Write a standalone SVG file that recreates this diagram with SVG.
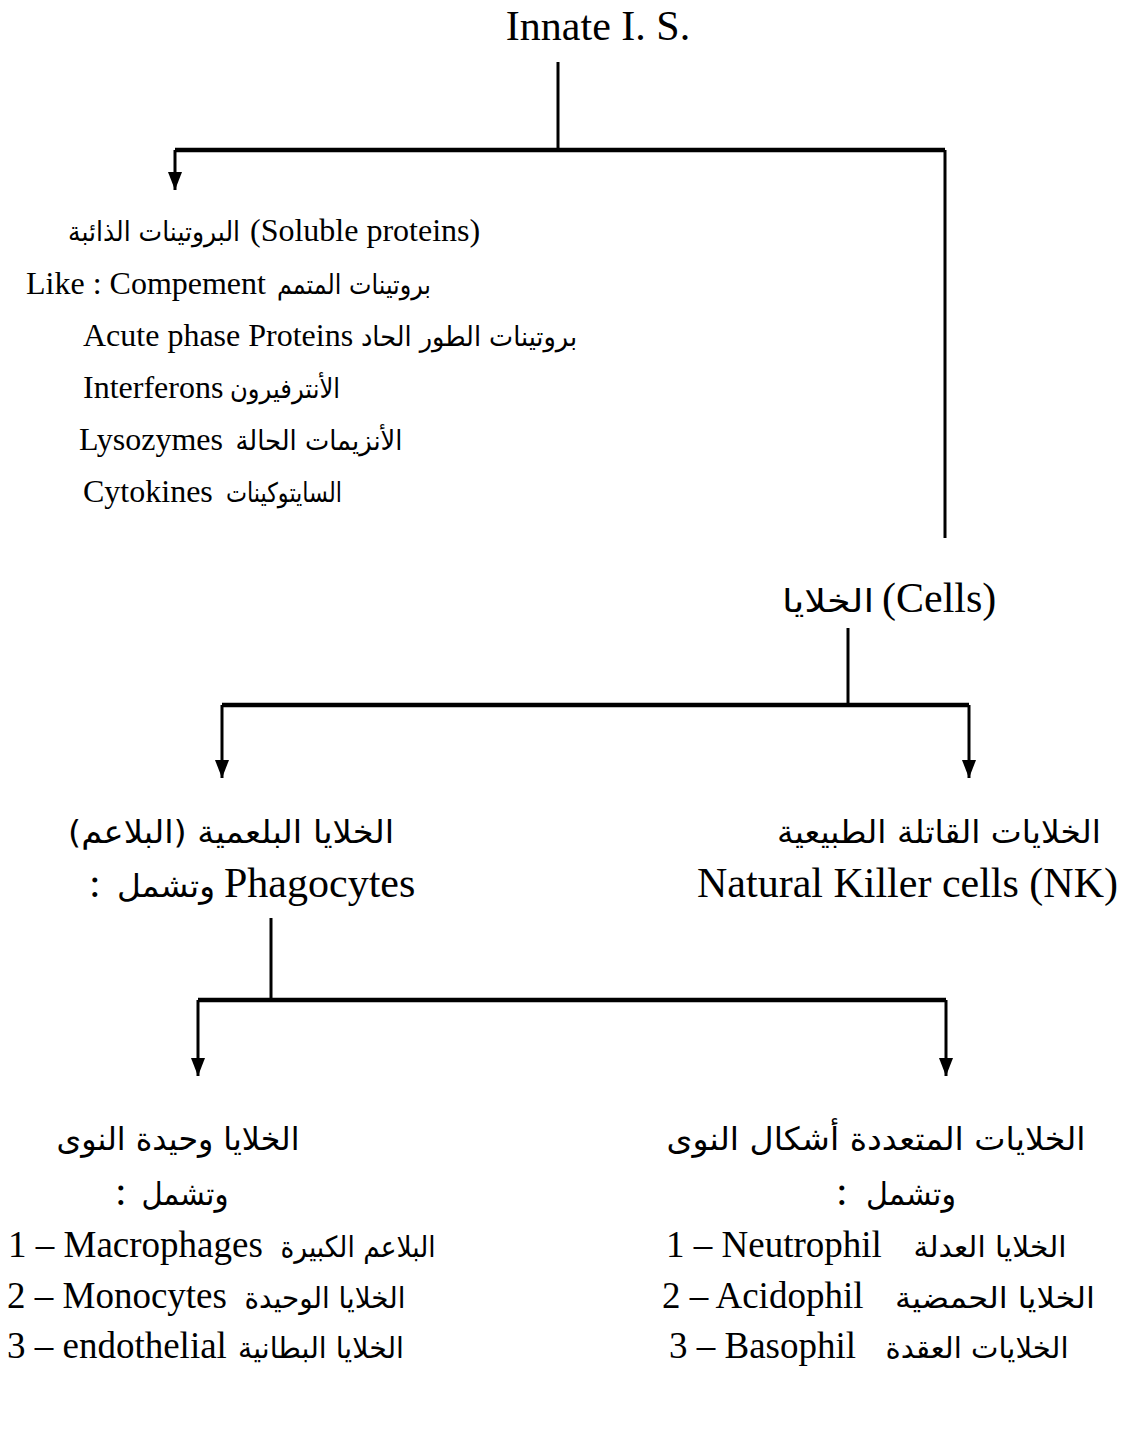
<svg xmlns="http://www.w3.org/2000/svg" width="1123" height="1430" viewBox="0 0 1123 1430">
<style>
.en{font-family:"Liberation Serif","Times New Roman",serif;fill:#000}
.ar{font-family:"DejaVu Sans",sans-serif;fill:#000}
.h{font-size:42px}
.l{font-size:32px}
.b{font-size:37px}
.ah{font-size:32px}
.al{font-size:27px}
.ab{font-size:29px}
.ln{stroke:#000;stroke-width:3;fill:none}
.bar{stroke:#000;stroke-width:4.5;fill:none}
</style>
<defs>
<marker id="arr" viewBox="0 0 18 14" refX="18" refY="7" markerWidth="18" markerHeight="14" markerUnits="userSpaceOnUse" orient="auto">
<path d="M0,0 L18,7 L0,14 z" fill="#000"/>
</marker>
</defs>
<rect width="1123" height="1430" fill="#fff"/>
<g id="connectors">
<path class="ln" d="M558,62 V150"/>
<path class="bar" d="M175,150 H945"/>
<path class="ln" d="M175,150 V190" marker-end="url(#arr)"/>
<path class="ln" d="M945,150 V538"/>
<path class="ln" d="M848,628 V705"/>
<path class="bar" d="M222,705 H969"/>
<path class="ln" d="M222,705 V778" marker-end="url(#arr)"/>
<path class="ln" d="M969,705 V778" marker-end="url(#arr)"/>
<path class="ln" d="M271,918 V1000"/>
<path class="bar" d="M198,1000 H946"/>
<path class="ln" d="M198,1000 V1076" marker-end="url(#arr)"/>
<path class="ln" d="M946,1000 V1076" marker-end="url(#arr)"/>
</g>
<g id="innate">
<text class="en h" x="598" y="40" text-anchor="middle">Innate I. S.</text>
</g>
<g id="soluble">
<text class="ar al" x="154" y="241" text-anchor="middle" direction="rtl" textLength="172" lengthAdjust="spacingAndGlyphs">البروتينات الذائبة</text>
<text class="en l" x="250" y="241">(Soluble proteins)</text>
<text class="en l" x="26" y="294">Like : Compement</text>
<text class="ar al" x="354" y="294" text-anchor="middle" direction="rtl" textLength="154" lengthAdjust="spacingAndGlyphs">بروتينات المتمم</text>
<text class="en l" x="83" y="346">Acute phase Proteins</text>
<text class="ar al" x="469" y="346" text-anchor="middle" direction="rtl" textLength="216" lengthAdjust="spacingAndGlyphs">بروتينات الطور الحاد</text>
<text class="en l" x="83" y="398">Interferons</text>
<text class="ar al" x="285" y="398" text-anchor="middle" direction="rtl" textLength="110" lengthAdjust="spacingAndGlyphs">الأنترفيرون</text>
<text class="en l" x="79" y="450">Lysozymes</text>
<text class="ar al" x="319" y="450" text-anchor="middle" direction="rtl" textLength="167" lengthAdjust="spacingAndGlyphs">الأنزيمات الحالة</text>
<text class="en l" x="83" y="502">Cytokines</text>
<text class="ar al" x="284" y="502" text-anchor="middle" direction="rtl" textLength="116" lengthAdjust="spacingAndGlyphs">السايتوكينات</text>
</g>
<g id="cells">
<text class="ar ah" x="828" y="612" text-anchor="middle" direction="rtl" textLength="92" lengthAdjust="spacingAndGlyphs">الخلايا</text>
<text class="en h" x="882" y="612">(Cells)</text>
</g>
<g id="nk">
<text class="ar ah" x="939" y="843" text-anchor="middle" direction="rtl" textLength="324" lengthAdjust="spacingAndGlyphs">الخلايات القاتلة الطبيعية</text>
<text class="en h" x="697" y="897">Natural Killer cells (NK)</text>
</g>
<g id="phagocytes">
<text class="ar ah" x="231" y="843" text-anchor="middle" direction="rtl" textLength="326" lengthAdjust="spacingAndGlyphs">الخلايا البلعمية (البلاعم)</text>
<text class="en h" x="89" y="897">:</text>
<text class="ar ah" x="166" y="897" text-anchor="middle" direction="rtl" textLength="98" lengthAdjust="spacingAndGlyphs">وتشمل</text>
<text class="en h" x="224" y="897">Phagocytes</text>
</g>
<g id="mononuclear">
<text class="ar ah" x="178" y="1150" text-anchor="middle" direction="rtl" textLength="243" lengthAdjust="spacingAndGlyphs">الخلايا وحيدة النوى</text>
<text class="en h" x="115" y="1205">:</text>
<text class="ar ah" x="185" y="1205" text-anchor="middle" direction="rtl" textLength="87" lengthAdjust="spacingAndGlyphs">وتشمل</text>
<text class="en b" x="8" y="1257">1 – Macrophages</text>
<text class="ar ab" x="358" y="1257" text-anchor="middle" direction="rtl" textLength="155" lengthAdjust="spacingAndGlyphs">البلاعم الكبيرة</text>
<text class="en b" x="7" y="1308">2 – Monocytes</text>
<text class="ar ab" x="325" y="1308" text-anchor="middle" direction="rtl" textLength="161" lengthAdjust="spacingAndGlyphs">الخلايا الوحيدة</text>
<text class="en b" x="7" y="1358">3 – endothelial</text>
<text class="ar ab" x="321" y="1358" text-anchor="middle" direction="rtl" textLength="166" lengthAdjust="spacingAndGlyphs">الخلايا البطانية</text>
</g>
<g id="polymorphonuclear">
<text class="ar ah" x="876" y="1150" text-anchor="middle" direction="rtl" textLength="419" lengthAdjust="spacingAndGlyphs">الخلايات المتعددة أشكال النوى</text>
<text class="en h" x="836" y="1205">:</text>
<text class="ar ah" x="911" y="1205" text-anchor="middle" direction="rtl" textLength="90" lengthAdjust="spacingAndGlyphs">وتشمل</text>
<text class="en b" x="666" y="1257">1 – Neutrophil</text>
<text class="ar ab" x="990" y="1257" text-anchor="middle" direction="rtl" textLength="153" lengthAdjust="spacingAndGlyphs">الخلايا العدلة</text>
<text class="en b" x="662" y="1308">2 – Acidophil</text>
<text class="ar ab" x="995" y="1308" text-anchor="middle" direction="rtl" textLength="200" lengthAdjust="spacingAndGlyphs">الخلايا الحمضية</text>
<text class="en b" x="669" y="1358">3 – Basophil</text>
<text class="ar ab" x="977" y="1358" text-anchor="middle" direction="rtl" textLength="183" lengthAdjust="spacingAndGlyphs">الخلايات العقدة</text>
</g>
</svg>
